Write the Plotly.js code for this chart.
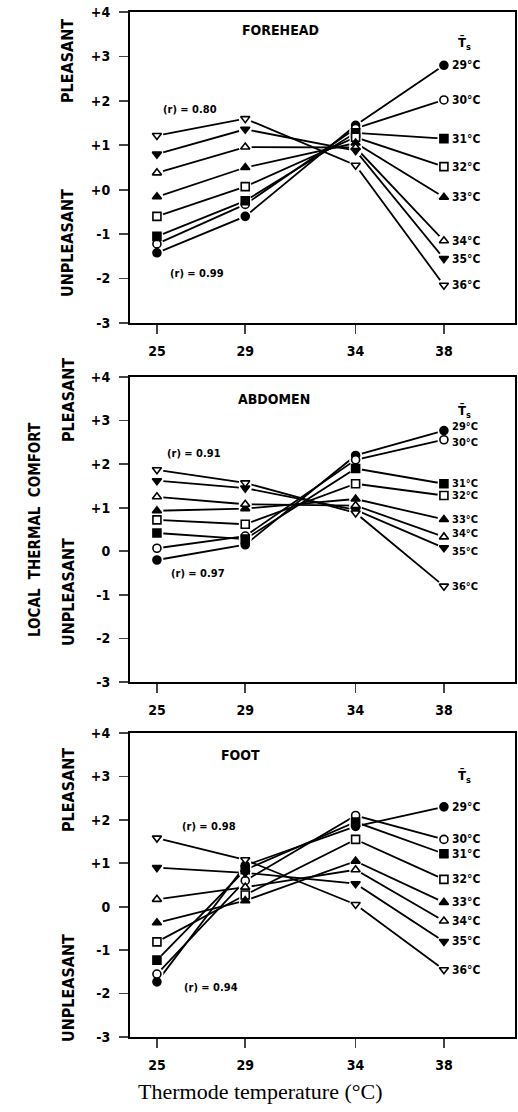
<!DOCTYPE html>
<html>
<head>
<meta charset="utf-8">
<script src="https://cdn.plot.ly/plotly-3.0.1.min.js"></script>
<style>html,body{margin:0;padding:0;background:#fff;}#chart{width:518px;height:1112px;}</style>
</head>
<body>
<div id="chart"></div>
<script>
// ---- data ----
const temps = [25, 29, 34, 38];
const xTickText = ['25', '29', '34', '38'];
const tsLabels = ['29°C', '30°C', '31°C', '32°C', '33°C', '34°C', '35°C', '36°C'];
const panelNames = ['FOREHEAD', 'ABDOMEN', 'FOOT'];
const yTickVals = [4, 3, 2, 1, 0, -1, -2, -3];
const yTickTextForehead = ['+4', '+3', '+2', '+1', '+0', '-1', '-2', '-3'];
const yTickTextAbdomen = ['+4', '+3', '+2', '+1', '0', '-1', '-2', '-3'];
const yTickTextFoot = ['+4', '+3', '+2', '+1', '0', '-1', '-2', '-3'];
const rTop = ['(r) = 0.80', '(r) = 0.91', '(r) = 0.98'];
const rBottom = ['(r) = 0.99', '(r) = 0.97', '(r) = 0.94'];

// comfort values at 25, 29, 34, 38 °C, one row per mean skin temperature 29..36 °C
const forehead = [
  [-1.42, -0.60, 1.45, 2.80],
  [-1.22, -0.33, 1.38, 2.02],
  [-1.05, -0.25, 1.28, 1.15],
  [-0.60, 0.07, 1.18, 0.52],
  [-0.16, 0.50, 1.05, -0.17],
  [0.38, 0.96, 0.95, -1.15],
  [0.80, 1.36, 0.88, -1.55],
  [1.22, 1.60, 0.55, -2.15]
];
const abdomen = [
  [-0.20, 0.15, 2.20, 2.77],
  [0.07, 0.35, 2.10, 2.56],
  [0.42, 0.28, 1.90, 1.55],
  [0.72, 0.62, 1.55, 1.28],
  [0.93, 0.98, 1.20, 0.73],
  [1.25, 1.08, 1.05, 0.33],
  [1.62, 1.45, 0.95, 0.08],
  [1.87, 1.57, 0.88, -0.80]
];
const foot = [
  [-1.73, 0.95, 1.85, 2.30],
  [-1.55, 0.60, 2.10, 1.55],
  [-1.23, 0.85, 1.95, 1.22],
  [-0.81, 0.27, 1.55, 0.63],
  [-0.37, 0.14, 1.05, 0.10],
  [0.17, 0.45, 0.85, -0.33],
  [0.90, 0.78, 0.53, -0.80],
  [1.58, 1.08, 0.05, -1.45]
];

// ---- styling ----
const symbols = ['circle', 'circle', 'square', 'square', 'triangle-up', 'triangle-up', 'triangle-down', 'triangle-down'];
const fills = ['black', 'white', 'black', 'white', 'black', 'white', 'black', 'white'];
const panels = [forehead, abdomen, foot];
const yTickTexts = [yTickTextForehead, yTickTextAbdomen, yTickTextFoot];
const FONT = 'DejaVu Sans Condensed, DejaVu Sans, sans-serif';
const H = 1112;
const pxTop = [12, 377, 733];
const pxBot = [323, 682, 1037];
const titlePos = [[30.6, 3.6], [30.3, 3.5], [28.8, 3.5]];
const rTopPos = [[26.5, 1.8], [26.7, 2.25], [27.35, 1.84]];
const rBotPos = [[26.8, -1.89], [26.85, -0.5], [27.45, -1.87]];
const tsHeadY = [3.3, 3.2, 3.0];
// small pixel nudges of the right-hand labels so close ones do not collide
const labelNudge = [
  [0, 0, 0, 0, 0, 0, 0, 0],
  [4, -3, 0, 0, 0, 3, -4, 0],
  [0, 0, 0, 0, 0, 0, 0, 0]
];

const traces = [];
const suffix = ['', '2', '3'];
// lines
panels.forEach((data, p) => {
  data.forEach((row, i) => {
    traces.push({x: temps, y: row, xaxis: 'x' + suffix[p], yaxis: 'y' + suffix[p],
      mode: 'lines', line: {color: 'black', width: 1.8}, hoverinfo: 'skip', showlegend: false});
  });
});
// white halos (gaps between lines and markers)
panels.forEach((data, p) => {
  data.forEach((row, i) => {
    traces.push({x: temps, y: row, xaxis: 'x' + suffix[p], yaxis: 'y' + suffix[p],
      mode: 'markers', marker: {symbol: 'circle', size: 13, color: 'white'}, hoverinfo: 'skip', showlegend: false});
  });
});
// markers
panels.forEach((data, p) => {
  data.forEach((row, i) => {
    traces.push({x: temps, y: row, xaxis: 'x' + suffix[p], yaxis: 'y' + suffix[p],
      mode: 'markers', name: tsLabels[i],
      marker: {symbol: symbols[i], size: 8, color: fills[i],
               line: {color: 'black', width: 1.6}}, showlegend: false});
  });
});

const layout = {
  width: 518, height: 1112,
  margin: {l: 130, r: 3, t: 0, b: 0},
  paper_bgcolor: 'white', plot_bgcolor: 'white',
  showlegend: false,
  annotations: []
};

for (let p = 0; p < 3; p++) {
  const xa = {
    domain: [0, 1], range: [23.78, 41.22], anchor: 'y' + suffix[p],
    tickvals: temps, ticktext: xTickText, ticks: 'outside', ticklen: 9, tickwidth: 1.6,
    showline: true, mirror: true, linewidth: 2, linecolor: 'black', showgrid: false, zeroline: false,
    tickfont: {family: FONT, size: 14, color: 'black', weight: 'bold'}, ticklabelstandoff: 5
  };
  const ya = {
    domain: [1 - pxBot[p] / H, 1 - pxTop[p] / H], range: [-3, 4], anchor: 'x' + suffix[p],
    tickvals: yTickVals, ticktext: yTickTexts[p], ticks: 'outside', ticklen: 9, tickwidth: 1.6,
    showline: true, mirror: true, linewidth: 2, linecolor: 'black', showgrid: false, zeroline: false,
    tickfont: {family: FONT, size: 14, color: 'black', weight: 'bold'}, ticklabelstandoff: 6
  };
  layout['xaxis' + suffix[p]] = xa;
  layout['yaxis' + suffix[p]] = ya;

  const xr = 'x' + suffix[p], yr = 'y' + suffix[p];
  const ann = layout.annotations;
  ann.push({xref: xr, yref: yr, x: titlePos[p][0], y: titlePos[p][1], text: panelNames[p], showarrow: false,
            font: {family: FONT, size: 14, color: 'black', weight: 'bold'}});
  ann.push({xref: xr, yref: yr, x: rTopPos[p][0], y: rTopPos[p][1], text: rTop[p], showarrow: false,
            font: {family: FONT, size: 11, color: 'black', weight: 'bold'}});
  ann.push({xref: xr, yref: yr, x: rBotPos[p][0], y: rBotPos[p][1], text: rBottom[p], showarrow: false,
            font: {family: FONT, size: 11, color: 'black', weight: 'bold'}});
  ann.push({xref: xr, yref: yr, x: 38.55, y: tsHeadY[p], text: 'T̄<sub>s</sub>', showarrow: false, xanchor: 'left',
            font: {family: FONT, size: 13, color: 'black', weight: 'bold'}});
  panels[p].forEach((row, i) => {
    ann.push({xref: xr, yref: yr, x: temps[3], y: row[3], text: tsLabels[i], showarrow: false,
              xanchor: 'left', xshift: 6, yshift: labelNudge[p][i],
              font: {family: FONT, size: p === 1 ? 11 : 12, color: 'black', weight: 'bold'}});
  });
}

// side labels
const sideFont = {family: FONT, size: 16, color: 'black', weight: 'bold'};
const pleasantY = [61, 400, 790];
const unpleasantY = [243, 592, 988];
for (let p = 0; p < 3; p++) {
  layout.annotations.push({xref: 'paper', yref: 'paper', x: (68 - 130) / 385, y: 1 - pleasantY[p] / H,
    xanchor: 'center', yanchor: 'middle',
    text: 'PLEASANT', textangle: -90, showarrow: false, font: sideFont});
  layout.annotations.push({xref: 'paper', yref: 'paper', x: (68 - 130) / 385, y: 1 - unpleasantY[p] / H,
    xanchor: 'center', yanchor: 'middle',
    text: 'UNPLEASANT', textangle: -90, showarrow: false, font: sideFont});
}
layout.annotations.push({xref: 'paper', yref: 'paper', x: (35 - 130) / 385, y: 1 - 530 / H,
  xanchor: 'center', yanchor: 'middle',
  text: 'LOCAL  THERMAL  COMFORT', textangle: -90, showarrow: false,
  font: {family: FONT, size: 15, color: 'black', weight: 'bold'}});
layout.annotations.push({xref: 'paper', yref: 'paper', x: (260 - 130) / 385, y: 1 - 1091 / H,
  xanchor: 'center', yanchor: 'middle',
  text: 'Thermode temperature (°C)', showarrow: false,
  font: {family: 'Liberation Serif, Times New Roman, serif', size: 22, color: 'black'}});

Plotly.newPlot('chart', traces, layout, {staticPlot: true, displayModeBar: false});
</script>
</body>
</html>
